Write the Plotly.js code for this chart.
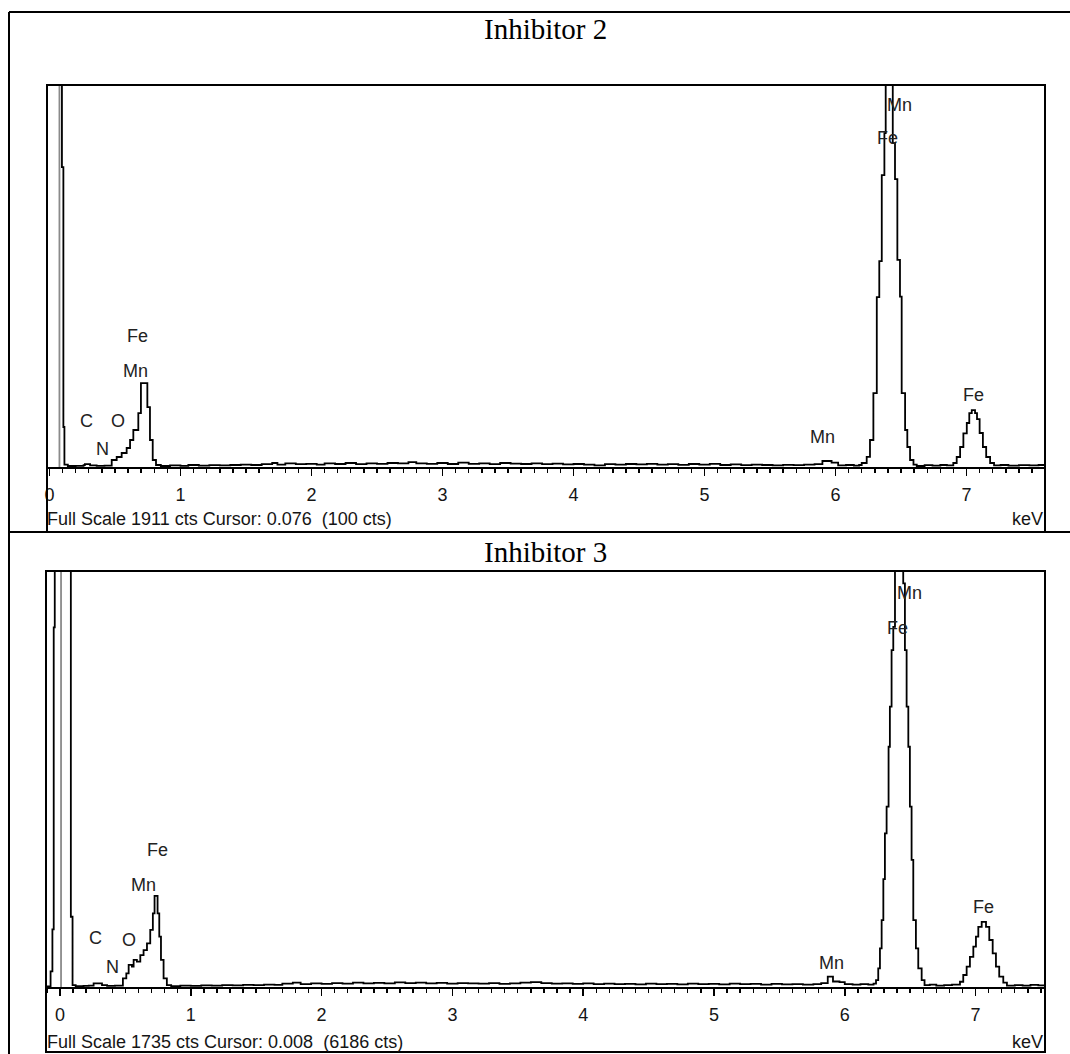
<!DOCTYPE html>
<html>
<head>
<meta charset="utf-8">
<script src="https://cdn.plot.ly/plotly-3.0.1.min.js"></script>
<style>html,body{margin:0;padding:0;background:#fff;}#chart{width:1070px;height:1054px;}</style>
</head>
<body>
<div id="chart"></div>
<script>
// ---------- data ----------
const panelTitles = ["Inhibitor 2", "Inhibitor 3"];
const fullScale = [1911, 1735];
const cursorKeV = [0.076, 0.008];
const cursorCts = [100, 6186];
const tickVals = [0, 1, 2, 3, 4, 5, 6, 7];
const tickText = ["0", "1", "2", "3", "4", "5", "6", "7"];

// Spectrum 1 (Inhibitor 2): energy (keV, left edge of each step) and counts
const e1_keV = [-0.02,0.095,0.106,0.114,0.14,0.20,0.26,0.27,0.31,0.36,0.42,0.475,0.513,0.551,0.589,0.615,0.640,0.678,0.698,0.747,0.767,0.788,0.813,0.85,0.92,1.00,1.06,1.14,1.22,1.30,1.38,1.46,1.54,1.62,1.70,1.74,1.80,1.88,1.96,2.04,2.10,2.18,2.26,2.34,2.42,2.50,2.58,2.66,2.74,2.80,2.88,2.96,3.04,3.12,3.20,3.28,3.36,3.44,3.52,3.60,3.68,3.76,3.84,3.92,4.00,4.08,4.16,4.24,4.32,4.40,4.48,4.56,4.64,4.72,4.80,4.88,4.96,5.04,5.12,5.20,5.28,5.36,5.44,5.52,5.60,5.68,5.76,5.84,5.90,5.97,6.02,6.08,6.14,6.18,6.20,6.238,6.263,6.289,6.315,6.334,6.353,6.373,6.383,6.437,6.454,6.472,6.492,6.505,6.531,6.548,6.569,6.595,6.62,6.68,6.74,6.80,6.85,6.899,6.925,6.951,6.976,7.002,7.021,7.040,7.065,7.08,7.10,7.125,7.15,7.18,7.21,7.26,7.32,7.40,7.48,7.55,7.60];
const e1_cts = [3000,1500,200,12,5,6,9,14,8,6,7,35,50,70,95,135,185,270,420,300,135,35,10,5,8,6,10,7,9,8,10,12,10,14,20,12,18,14,16,12,18,15,20,14,18,16,20,18,24,18,16,20,15,22,16,18,14,20,17,15,18,14,17,13,15,12,8,14,12,15,13,16,12,14,11,15,12,16,10,13,9,12,10,8,11,9,12,14,30,22,8,10,7,10,20,51,135,370,850,1030,1460,1670,2400,1620,1440,1036,852,370,185,100,35,12,5,9,7,10,8,20,50,100,168,220,270,285,270,240,170,100,50,20,8,10,7,9,8,10,8];

// Spectrum 2 (Inhibitor 3)
const e2_keV = [-0.107,-0.072,-0.058,-0.048,-0.040,0.083,0.096,0.12,0.18,0.22,0.257,0.321,0.36,0.42,0.481,0.507,0.525,0.55,0.563,0.588,0.614,0.639,0.665,0.690,0.710,0.723,0.746,0.759,0.772,0.792,0.817,0.85,0.92,1.00,1.08,1.16,1.24,1.32,1.40,1.48,1.56,1.64,1.70,1.78,1.84,1.92,2.00,2.08,2.16,2.24,2.32,2.40,2.48,2.56,2.64,2.72,2.80,2.88,2.96,3.04,3.12,3.20,3.28,3.36,3.44,3.52,3.60,3.68,3.76,3.84,3.92,4.00,4.08,4.16,4.24,4.32,4.40,4.48,4.56,4.64,4.72,4.80,4.88,4.96,5.04,5.12,5.20,5.28,5.36,5.44,5.52,5.60,5.68,5.76,5.82,5.87,5.91,5.96,6.00,6.06,6.12,6.18,6.22,6.239,6.256,6.269,6.282,6.295,6.307,6.320,6.335,6.345,6.358,6.371,6.384,6.447,6.460,6.473,6.486,6.498,6.511,6.524,6.544,6.562,6.588,6.61,6.65,6.70,6.76,6.82,6.881,6.906,6.932,6.957,6.983,7.003,7.021,7.047,7.08,7.105,7.131,7.156,7.181,7.212,7.24,7.30,7.36,7.42,7.48,7.53];
const e2_cts = [2,65,240,1500,3000,293,8,4,5,6,15,8,5,6,36,57,92,85,113,106,133,154,182,238,307,380,307,210,113,36,8,4,6,5,7,6,8,7,9,8,10,9,14,18,12,15,13,16,14,18,15,17,15,19,16,18,15,17,14,16,15,14,16,13,15,18,20,16,14,15,13,15,12,14,12,13,11,14,12,13,11,14,12,13,11,14,12,13,10,13,11,12,10,12,16,43,23,20,12,10,12,10,14,29,78,161,279,450,641,752,1002,1169,1405,1502,2400,1683,1405,1169,1002,752,530,279,161,78,29,8,10,6,8,10,22,50,85,126,168,210,251,272,251,196,140,85,43,18,6,8,6,9,7,8];

// Peak labels
const lab1_text = ["C","O","N","Mn","Fe","Mn","Fe","Mn","Fe"];
const lab1_keV  = [0.279,0.523,0.401,0.653,0.668,5.897,7.05,6.492,6.393];
const lab1_cts  = [230,230,90,480,655,150,360,1811,1646];
const lab2_text = ["C","O","N","Mn","Fe","Mn","Fe","Mn","Fe"];
const lab2_keV  = [0.275,0.528,0.405,0.642,0.749,5.902,7.057,6.498,6.407];
const lab2_cts  = [204,196,83,425,571,100,334,1643,1497];

// ---------- layout helpers ----------
const W = 1070, H = 1054;
const PX = v => v / W;
const PY = v => 1 - v / H;

const smallFont = {family: "Arial, 'Liberation Sans', sans-serif", size: 18, color: "#151515"};
const labelFont = {family: "Arial, 'Liberation Sans', sans-serif", size: 18, color: "#222"};

function specTrace(x, y, xa, ya) {
  return {x: x, y: y, xaxis: xa, yaxis: ya, type: "scatter", mode: "lines",
    line: {shape: "hv", color: "#000", width: 1.8}, hoverinfo: "skip", showlegend: false};
}
function cursorTrace(c, full, xa, ya) {
  return {x: [c, c], y: [0, full], xaxis: xa, yaxis: ya, type: "scatter", mode: "lines",
    line: {color: "#8a8a8a", width: 1.8}, hoverinfo: "skip", showlegend: false};
}

const data = [
  cursorTrace(cursorKeV[0], fullScale[0], "x", "y"),
  specTrace(e1_keV, e1_cts, "x", "y"),
  cursorTrace(cursorKeV[1], fullScale[1], "x2", "y2"),
  specTrace(e2_keV, e2_cts, "x2", "y2")
];

function xaxisDef(domain, range, anchor) {
  return {
    domain: domain, range: range, anchor: anchor,
    showline: true, linecolor: "#000", linewidth: 1.6, mirror: false,
    showgrid: false, zeroline: false,
    ticks: "outside", ticklen: 7, tickwidth: 1.6, tickcolor: "#000",
    tickmode: "array", tickvals: tickVals, ticktext: tickText,
    ticklabelstandoff: 4,
    tickfont: smallFont,
    minor: {tickmode: "linear", tick0: 0, dtick: 0.1, ticks: "outside", ticklen: 4, tickwidth: 1.4, tickcolor: "#000", showgrid: false},
    fixedrange: true
  };
}
function yaxisDef(domain, full, anchor) {
  return {domain: domain, range: [0, full], anchor: anchor, visible: false, fixedrange: true};
}

const annotations = [];
function addTitle(text, yPx) {
  annotations.push({text: text, xref: "paper", yref: "paper", x: PX(545), y: PY(yPx),
    xanchor: "center", yanchor: "middle", showarrow: false,
    font: {family: "'Liberation Serif', 'Times New Roman', serif", size: 29, color: "#000"}});
}
addTitle(panelTitles[0], 29);
addTitle(panelTitles[1], 552);

function addFooter(i, yPx) {
  annotations.push({text: "Full Scale " + fullScale[i] + " cts Cursor: " + cursorKeV[i].toFixed(3) + " \u00a0(" + cursorCts[i] + " cts)",
    xref: "paper", yref: "paper", x: PX(45), y: PY(yPx), xanchor: "left", yanchor: "middle",
    showarrow: false, font: smallFont});
  annotations.push({text: "keV", xref: "paper", yref: "paper", x: PX(1045), y: PY(yPx),
    xanchor: "right", yanchor: "middle", showarrow: false, font: smallFont});
}
addFooter(0, 519);
addFooter(1, 1042);

function addLabels(txt, kx, ky, xa, ya) {
  for (let i = 0; i < txt.length; i++) {
    annotations.push({text: txt[i], x: kx[i], y: ky[i], xref: xa, yref: ya,
      xanchor: "center", yanchor: "middle", showarrow: false, font: labelFont});
  }
}
addLabels(lab1_text, lab1_keV, lab1_cts, "x", "y");
addLabels(lab2_text, lab2_keV, lab2_cts, "x2", "y2");

const lineStyle = {color: "#000", width: 2};
const shapes = [
  {type: "line", xref: "paper", yref: "paper", x0: PX(9), x1: PX(1070), y0: PY(12), y1: PY(12), line: lineStyle},
  {type: "line", xref: "paper", yref: "paper", x0: PX(9), x1: PX(9), y0: PY(12), y1: PY(1054), line: lineStyle},
  {type: "line", xref: "paper", yref: "paper", x0: PX(9), x1: PX(1070), y0: PY(532), y1: PY(532), line: lineStyle},
  {type: "rect", xref: "paper", yref: "paper", x0: PX(47), x1: PX(1045), y0: PY(85), y1: PY(532), line: lineStyle, fillcolor: "rgba(0,0,0,0)"},
  {type: "rect", xref: "paper", yref: "paper", x0: PX(46), x1: PX(1045), y0: PY(571), y1: PY(1052), line: lineStyle, fillcolor: "rgba(0,0,0,0)"}
];

const layout = {
  width: W, height: H,
  margin: {l: 0, r: 0, t: 0, b: 0, pad: 0},
  paper_bgcolor: "#fff", plot_bgcolor: "#fff",
  showlegend: false,
  xaxis: xaxisDef([PX(47), PX(1045)], [-0.019, 7.599], "y"),
  yaxis: yaxisDef([PY(467), PY(85)], fullScale[0], "x"),
  xaxis2: xaxisDef([PX(46), PX(1045)], [-0.107, 7.531], "y2"),
  yaxis2: yaxisDef([PY(987), PY(571)], fullScale[1], "x2"),
  annotations: annotations,
  shapes: shapes
};

Plotly.newPlot("chart", data, layout, {displayModeBar: false, staticPlot: true});
</script>
</body>
</html>
